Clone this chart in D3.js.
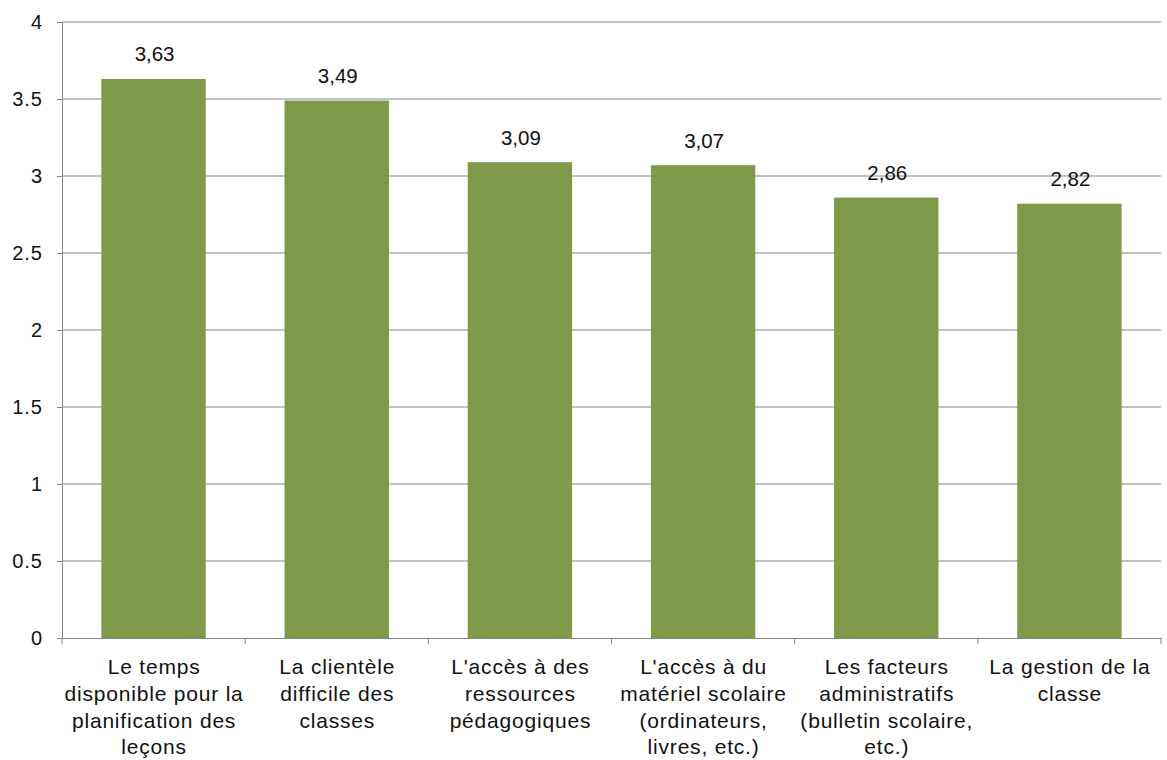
<!DOCTYPE html>
<html>
<head>
<meta charset="utf-8">
<script src="https://cdn.jsdelivr.net/npm/d3@7"></script>
<style>
  body { margin: 0; background: #fff; }
  svg { display: block; font-family: "Liberation Sans", Arial, sans-serif; }
</style>
</head>
<body>
<svg id="chart" width="1167" height="760"></svg>
<script>
// data
const categories = [
  ["Le temps", "disponible pour la", "planification des", "leçons"],
  ["La clientèle", "difficile des", "classes"],
  ["L'accès à des", "ressources", "pédagogiques"],
  ["L'accès à du", "matériel scolaire", "(ordinateurs,", "livres, etc.)"],
  ["Les facteurs", "administratifs", "(bulletin scolaire,", "etc.)"],
  ["La gestion de la", "classe"]
];
const values = [3.63, 3.49, 3.09, 3.07, 2.86, 2.82];
const yTicks = [0, 0.5, 1, 1.5, 2, 2.5, 3, 3.5, 4];

const svg = d3.select("#chart");
const margin = { top: 22, right: 6, bottom: 122, left: 62 };
const width = 1167 - margin.left - margin.right;
const height = 760 - margin.top - margin.bottom;

const g = svg.append("g").attr("transform", `translate(${margin.left},${margin.top})`);

const idx = d3.range(values.length);
const x = d3.scaleBand().domain(idx).range([0, width]).paddingInner(0.43).paddingOuter(0.215);
const xTicks = d3.scaleBand().domain(idx).range([0, width]);
const y = d3.scaleLinear().domain([0, 4]).range([height, 0]);

// gridlines
g.selectAll("line.grid")
  .data(yTicks.filter(d => d > 0))
  .join("line")
  .attr("class", "grid")
  .attr("x1", 0).attr("x2", width)
  .attr("y1", d => y(d)).attr("y2", d => y(d))
  .attr("stroke", "#868686").attr("stroke-width", 1);

// y axis
const yAxis = g.append("g")
  .call(d3.axisLeft(y).tickValues(yTicks).tickSize(5).tickPadding(14).tickFormat(d => String(d)));
yAxis.select(".domain").attr("stroke", "#868686");
yAxis.selectAll(".tick line").attr("stroke", "#868686");
yAxis.selectAll(".tick text")
  .attr("font-size", 20).attr("fill", "#111")
  .style("letter-spacing", "1px");

// bars
g.selectAll("rect.bar")
  .data(values)
  .join("rect")
  .attr("class", "bar")
  .attr("x", (d, i) => x(i))
  .attr("width", x.bandwidth())
  .attr("y", d => y(d))
  .attr("height", d => height - y(d))
  .attr("fill", "#7f9a48");

// x axis
const xAxis = g.append("g")
  .attr("transform", `translate(0,${height})`)
  .call(d3.axisBottom(xTicks).tickValues([]).tickSizeOuter(0));
xAxis.select(".domain").attr("stroke", "#868686");
g.append("g")
  .selectAll("line")
  .data(d3.range(values.length + 1))
  .join("line")
  .attr("x1", i => i * xTicks.step()).attr("x2", i => i * xTicks.step())
  .attr("y1", height).attr("y2", height + 6)
  .attr("stroke", "#868686");

// category labels
const labels = g.append("g")
  .selectAll("text")
  .data(categories)
  .join("text")
  .attr("x", (d, i) => x(i) + x.bandwidth() / 2 + 0.5)
  .attr("y", height + 36)
  .attr("text-anchor", "middle")
  .attr("font-size", 21)
  .attr("fill", "#111")
  .style("letter-spacing", "0.8px");
labels.selectAll("tspan")
  .data(d => d)
  .join("tspan")
  .attr("x", function () { return d3.select(this.parentNode).attr("x"); })
  .attr("dy", (d, i) => i === 0 ? 0 : 26.8)
  .text(d => d);

// value labels
g.selectAll("text.val")
  .data(values)
  .join("text")
  .attr("class", "val")
  .attr("x", (d, i) => x(i) + x.bandwidth() / 2 + 1)
  .attr("y", d => y(d) - 17.5)
  .attr("text-anchor", "middle")
  .attr("font-size", 20.5)
  .attr("fill", "#111")
  .text(d => d.toFixed(2).replace(".", ","));
</script>
</body>
</html>
